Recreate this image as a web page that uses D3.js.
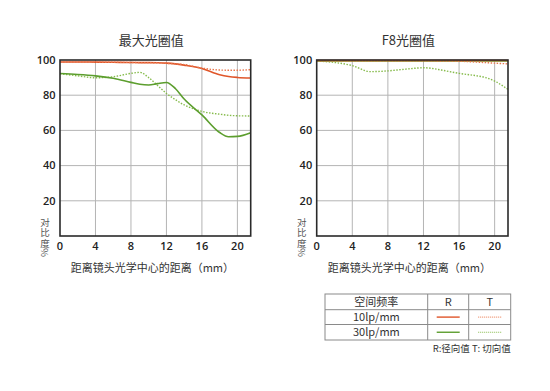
<!DOCTYPE html>
<html>
<head>
<meta charset="utf-8">
<script src="https://cdn.jsdelivr.net/npm/d3@7"></script>
<style>
  body { margin: 0; background: #fff; }
  svg { display: block; font-family: "Noto Sans CJK SC", "Noto Sans", sans-serif; }
  .grid line { stroke: #b4b4b4; stroke-width: 1; }
  .tick-label { font-family: "Open Sans", "Noto Sans", sans-serif; font-size: 11px; font-weight: 600; fill: #222; }
</style>
</head>
<body>
<div id="chart"></div>
<script>
// image height (mm) sample positions
const positions = [0, 2, 4, 6, 8, 9, 10, 11, 12, 13, 14, 16, 18, 19, 20, 21.5];

// max aperture
const wideR10 = [98.9, 98.9, 98.8, 98.7, 98.6, 98.5, 98.5, 98.4, 98.2, 97.8, 97.1, 95.2, 91.6, 90.6, 90.1, 89.8];
const wideT10 = [98.9, 98.9, 98.8, 98.7, 98.6, 98.5, 98.5, 98.4, 98.1, 97.8, 97.4, 95.4, 94.3, 94.2, 94.2, 94.5];
const wideR30 = [92.3, 91.8, 91.0, 89.6, 87.3, 86.2, 85.8, 86.6, 87.2, 83.8, 77.8, 68.8, 58.8, 56.4, 56.6, 58.7];
const wideT30 = [92.2, 91.0, 89.9, 90.5, 92.4, 93.0, 90.0, 85.5, 81.0, 77.5, 74.5, 70.8, 69.2, 68.6, 68.3, 68.2];

// F8
const f8R10 = [99.7, 99.7, 99.7, 99.7, 99.7, 99.7, 99.7, 99.7, 99.7, 99.7, 99.7, 99.7, 99.7, 99.7, 99.7, 99.7];
const f8T10 = [99.5, 99.5, 99.5, 99.5, 99.5, 99.5, 99.5, 99.5, 99.5, 99.5, 99.4, 99.3, 98.8, 98.5, 98.2, 97.8];
const f8R30 = [99.4, 99.4, 99.4, 99.4, 99.4, 99.4, 99.4, 99.4, 99.4, 99.4, 99.4, 99.4, 99.4, 99.4, 99.4, 99.4];
const f8T30 = [99.4, 98.6, 96.8, 93.4, 93.8, 94.3, 94.8, 95.3, 95.6, 95.2, 94.3, 92.4, 91.0, 90.0, 88.0, 83.3];

const xTicks = [0, 4, 8, 12, 16, 20];
const yTicks = [20, 40, 60, 80, 100];
const titles = ["最大光圈值", "F8光圈值"];
const xTitle = "距离镜头光学中心的距离（mm）";
const yTitle = "对比度%";

const legendHeader = ["空间频率", "R", "T"];
const legendRows = ["10lp/mm", "30lp/mm"];
const footnote = "R:径向值 T: 切向值";

const RED = "#e0562a", RED_T = "#e8764c", GREEN = "#5c9e2e", GREEN_T = "#86bb4c";

const width = 550, height = 391;
const svg = d3.select("#chart").append("svg")
  .attr("width", width).attr("height", height);

const panels = [
  {left: 60, right: 250.7, title: titles[0],
   series: [
     {v: wideR10, c: RED, dash: null},
     {v: wideT10, c: RED_T, dash: "1.5,1.5"},
     {v: wideT30, c: GREEN_T, dash: "1.5,1.5"},
     {v: wideR30, c: GREEN, dash: null}]},
  {left: 316.7, right: 508, title: titles[1],
   series: [
     {v: f8T30, c: GREEN_T, dash: "1.5,1.5"},
     {v: f8R30, c: GREEN, dash: null},
     {v: f8R10, c: RED, dash: null},
     {v: f8T10, c: RED_T, dash: "1.5,1.5"}]}
];

const plotTop = 60, plotBottom = 236;

panels.forEach(p => {
  const x = d3.scaleLinear().domain([0, 21.5]).range([p.left, p.right]);
  const y = d3.scaleLinear().domain([0, 100]).range([plotBottom, plotTop]);
  const g = svg.append("g");

  // grid
  const grid = g.append("g").attr("class", "grid");
  grid.selectAll("line.v").data(xTicks.filter(d => d > 0)).enter().append("line")
    .attr("x1", d => x(d)).attr("x2", d => x(d))
    .attr("y1", plotTop).attr("y2", plotBottom);
  grid.selectAll("line.h").data(yTicks.filter(d => d < 100)).enter().append("line")
    .attr("x1", p.left).attr("x2", p.right)
    .attr("y1", d => y(d)).attr("y2", d => y(d));

  // curves
  const line = d3.line()
    .x((d, i) => x(positions[i]))
    .y(d => y(d))
    .curve(d3.curveMonotoneX);

  p.series.forEach(s => {
    g.append("path")
      .attr("d", line(s.v))
      .attr("fill", "none")
      .attr("stroke", s.c)
      .attr("stroke-width", s.dash ? 1.4 : 1.6)
      .attr("stroke-dasharray", s.dash);
  });

  // frame
  g.append("rect")
    .attr("x", p.left).attr("y", plotTop)
    .attr("width", p.right - p.left).attr("height", plotBottom - plotTop)
    .attr("fill", "none").attr("stroke", "#2a2a2a").attr("stroke-width", 1.6);

  // tick labels
  g.selectAll("text.yl").data(yTicks).enter().append("text")
    .attr("class", "tick-label")
    .attr("x", p.left - 4.5).attr("y", d => y(d))
    .attr("dy", "0.35em").attr("text-anchor", "end")
    .text(d => d);
  g.selectAll("text.xl").data(xTicks).enter().append("text")
    .attr("class", "tick-label")
    .attr("x", d => x(d)).attr("y", 249.5)
    .attr("text-anchor", "middle")
    .text(d => d);

  // titles
  const cx = (p.left + p.right) / 2;
  g.append("text")
    .attr("x", cx - 4).attr("y", 45)
    .attr("text-anchor", "middle")
    .style("font-size", "13px").style("fill", "#333")
    .text(p.title);
  g.append("text")
    .attr("x", cx - 3).attr("y", 272)
    .attr("text-anchor", "middle")
    .style("font-size", "11px").style("fill", "#333")
    .text(xTitle);

  // vertical y title
  g.append("text")
    .attr("x", p.left - 15).attr("y", 218)
    .style("writing-mode", "vertical-rl")
    .style("letter-spacing", "0.6px")
    .style("font-size", "9.5px").style("fill", "#555")
    .text(yTitle);
});

// legend table
const lg = svg.append("g");
const colX = [325, 427.7, 468.7, 510.7];
const rowY = [294, 309.7, 324.5, 340];
lg.append("rect")
  .attr("x", colX[0]).attr("y", rowY[0])
  .attr("width", colX[3] - colX[0]).attr("height", rowY[3] - rowY[0])
  .attr("fill", "none").attr("stroke", "#8a8a8a").attr("stroke-width", 1);
[1, 2].forEach(i => {
  lg.append("line").attr("x1", colX[i]).attr("x2", colX[i])
    .attr("y1", rowY[0]).attr("y2", rowY[3]).attr("stroke", "#8a8a8a");
  lg.append("line").attr("x1", colX[0]).attr("x2", colX[3])
    .attr("y1", rowY[i]).attr("y2", rowY[i]).attr("stroke", "#8a8a8a");
});
legendHeader.forEach((t, i) => {
  lg.append("text")
    .attr("x", (colX[i] + colX[i + 1]) / 2).attr("y", (rowY[0] + rowY[1]) / 2)
    .attr("dy", "0.35em").attr("text-anchor", "middle")
    .style("font-size", "11px").style("fill", "#333")
    .text(t);
});
const legendColors = [[RED, RED_T], [GREEN, GREEN_T]];
legendRows.forEach((t, r) => {
  const cy = (rowY[r + 1] + rowY[r + 2]) / 2;
  lg.append("text")
    .attr("x", (colX[0] + colX[1]) / 2).attr("y", cy)
    .attr("dy", "0.35em").attr("text-anchor", "middle")
    .style("font-size", "11px").style("fill", "#333")
    .text(t);
  [0, 1].forEach(k => {
    const mid = (colX[k + 1] + colX[k + 2]) / 2;
    lg.append("line")
      .attr("x1", mid - 11.5).attr("x2", mid + 11.5)
      .attr("y1", cy).attr("y2", cy)
      .attr("stroke", legendColors[r][k])
      .attr("stroke-width", k ? 1 : 1.4)
      .attr("stroke-dasharray", k ? "1,1" : null);
  });
});
lg.append("text")
  .attr("x", 510.7).attr("y", 349).attr("dy", "0.35em")
  .attr("text-anchor", "end")
  .style("font-size", "9.5px").style("fill", "#333")
  .text(footnote);
</script>
</body>
</html>
